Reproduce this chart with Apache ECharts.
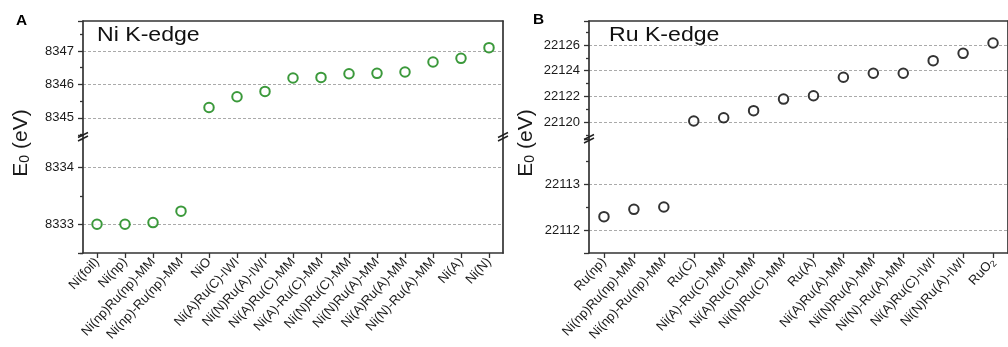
<!DOCTYPE html>
<html><head><meta charset="utf-8">
<script src="https://cdn.jsdelivr.net/npm/echarts@6/dist/echarts.min.js"></script>
<style>html,body{margin:0;padding:0;background:#fff}#c{width:1008px;height:347px}</style>
</head><body><div id="c"></div>
<script>
// ---- data ----
const niCategories = ['Ni(foil)', 'Ni(np)', 'Ni(np)Ru(np)-MM', 'Ni(np)-Ru(np)-MM', 'NiO', 'Ni(A)Ru(C)-IWI', 'Ni(N)Ru(A)-IWI', 'Ni(A)Ru(C)-MM', 'Ni(A)-Ru(C)-MM', 'Ni(N)Ru(C)-MM', 'Ni(N)Ru(A)-MM', 'Ni(A)Ru(A)-MM', 'Ni(N)-Ru(A)-MM', 'Ni(A)', 'Ni(N)'];
const niValues = [8333.00, 8333.00, 8333.03, 8333.23, 8345.31, 8345.63, 8345.79, 8346.19, 8346.21, 8346.32, 8346.33, 8346.37, 8346.67, 8346.78, 8347.10];
const ruCategories = ['Ru(np)', 'Ni(np)Ru(np)-MM', 'Ni(np)-Ru(np)-MM', 'Ru(C)', 'Ni(A)-Ru(C)-MM', 'Ni(A)Ru(C)-MM', 'Ni(N)Ru(C)-MM', 'Ru(A)', 'Ni(A)Ru(A)-MM', 'Ni(N)Ru(A)-MM', 'Ni(N)-Ru(A)-MM', 'Ni(A)Ru(C)-IWI', 'Ni(N)Ru(A)-IWI', 'RuO2'];
const ruValues = [22112.29, 22112.45, 22112.50, 22120.10, 22120.35, 22120.90, 22121.80, 22122.06, 22123.49, 22123.80, 22123.80, 22124.78, 22125.35, 22126.15];
// axis ranges of the broken axes (tick step chosen by ECharts from splitNumber)
const niUpper = {min: 8344.485, max: 8347.898, split: 3, step: 1};
const niLower = {min: 8332.496, max: 8334.567, split: 2, step: 1};
const ruUpper = {min: 22118.70, max: 22127.86, split: 4, step: 2};
const ruLower = {min: 22111.50, max: 22113.98, split: 2, step: 1};
const niBreak = 8340, ruBreak = 22116;

const FONT = '"Liberation Sans", Arial, sans-serif';
const AX = '#333';
const grids = [
  {left: 83, width: 420, top: 21, height: 114},
  {left: 83, width: 420, top: 135, height: 118},
  {left: 589, width: 420, top: 21, height: 118},
  {left: 589, width: 420, top: 139, height: 114}
];
function xAx(gi, cats, bottom) {
  return {
    type: 'category', gridIndex: gi, data: cats, position: bottom ? 'bottom' : 'top',
    boundaryGap: true,
    axisLine: {show: true, onZero: false, lineStyle: {color: AX, width: 1.7}},
    axisTick: {show: bottom, alignWithLabel: true, length: 5, inside: false, lineStyle: {color: AX, width: 1.3}},
    axisLabel: {show: bottom, rotate: 47, fontSize: 13, color: '#1a1a1a', fontFamily: FONT, margin: 7, interval: 0,
      formatter: v => v.replace(/O2$/, 'O{sub|2}'),
      rich: {sub: {fontSize: 9, verticalAlign: 'bottom', padding: [6, 0, 0, 0], color: '#1a1a1a', fontFamily: FONT}}},
    splitLine: {show: false}
  };
}
function yAx(gi, r) {
  const onStep = v => Math.abs(v / r.step - Math.round(v / r.step)) < 1e-6;
  return {
    type: 'value', gridIndex: gi, position: 'left', min: r.min, max: r.max, splitNumber: r.split,
    axisLine: {show: true, onZero: false, lineStyle: {color: AX, width: 1.7}},
    axisTick: {show: true, length: 5, inside: false, lineStyle: {color: AX, width: 1.3}},
    minorTick: {show: true, splitNumber: 2, length: 3, lineStyle: {color: AX, width: 1.3}},
    axisLabel: {fontSize: 13, color: '#1a1a1a', fontFamily: FONT, margin: 9, showMinLabel: false, showMaxLabel: false,
      formatter: v => (onStep(v) ? String(Math.round(v)) : '')},
    splitLine: {show: true, showMinLine: false, showMaxLine: false, lineStyle: {color: '#aaa', type: [3, 2], width: 1}}
  };
}
function yRight(gi) {
  return {type: 'value', gridIndex: gi, position: 'right',
    axisLine: {show: true, onZero: false, lineStyle: {color: AX, width: 1.7}},
    axisTick: {show: false}, axisLabel: {show: false}, splitLine: {show: false}};
}
function seg(vals, brk, upper) { return vals.map(v => (upper ? v > brk : v <= brk) ? v : '-'); }
function ser(xi, yi, data, color) {
  return {type: 'scatter', xAxisIndex: xi, yAxisIndex: yi, data: data, symbol: 'emptyCircle', symbolSize: 9.5,
    itemStyle: {color: color, borderColor: color, borderWidth: 2.2}, silent: true, animation: false};
}
const GREEN = '#0a800a', BLACK = '#000';
function breakMark(x, y) {
  const s = {stroke: '#222', lineWidth: 1.4};
  return [
    {type: 'line', shape: {x1: x - 5, y1: y + 1.5, x2: x + 5, y2: y - 3.5}, style: s, z: 100},
    {type: 'line', shape: {x1: x - 5, y1: y + 5, x2: x + 5, y2: y}, style: s, z: 100}
  ];
}
function yName(x, y) {
  return {type: 'text', x: x, y: y, rotation: Math.PI / 2, z: 100,
    style: {text: 'E{sub|0} (eV)', fill: '#1a1a1a', font: '21px ' + FONT, align: 'center', verticalAlign: 'middle',
      rich: {sub: {fontSize: 14, fill: '#1a1a1a', fontFamily: FONT, verticalAlign: 'bottom', padding: [9, 0, 0, 0]}}}};
}
function title(x, y, text) {
  return {type: 'text', x: x, y: y, scaleX: 1.1, z: 100,
    style: {text: text, font: '21px ' + FONT, fill: '#111', align: 'left', verticalAlign: 'top'}};
}
const option = {
  animation: false,
  backgroundColor: '#fff',
  grid: grids,
  xAxis: [xAx(0, niCategories, false), xAx(1, niCategories, true), xAx(2, ruCategories, false), xAx(3, ruCategories, true)],
  yAxis: [yAx(0, niUpper), yAx(1, niLower), yAx(2, ruUpper), yAx(3, ruLower), yRight(0), yRight(1), yRight(2), yRight(3)],
  series: [
    ser(0, 0, seg(niValues, niBreak, true), GREEN),
    ser(1, 1, seg(niValues, niBreak, false), GREEN),
    ser(2, 2, seg(ruValues, ruBreak, true), BLACK),
    ser(3, 3, seg(ruValues, ruBreak, false), BLACK)
  ],
  graphic: [
    {type: 'text', x: 16, y: 14, scaleX: 1.1, z: 100, style: {text: 'A', font: 'bold 14px ' + FONT, fill: '#000', verticalAlign: 'top'}},
    {type: 'text', x: 533, y: 13, scaleX: 1.1, z: 100, style: {text: 'B', font: 'bold 14px ' + FONT, fill: '#000', verticalAlign: 'top'}},
    title(97, 25, 'Ni K-edge'),
    title(609, 25, 'Ru K-edge'),
    yName(21, 143),
    yName(526, 143),
    ...breakMark(83, 136), ...breakMark(503, 136), ...breakMark(589, 138)
  ]
};
const chart = echarts.init(document.getElementById('c'), null, {renderer: 'canvas'});
chart.setOption(option);
</script></body></html>
